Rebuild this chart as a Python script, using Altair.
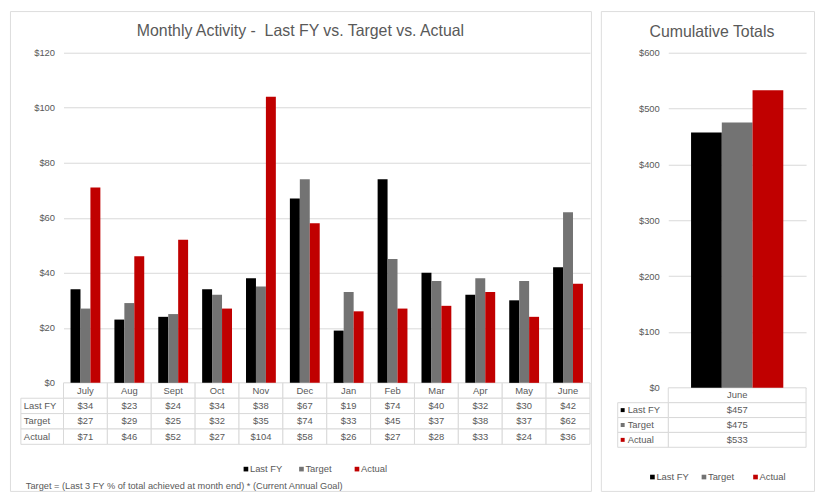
import altair as alt
import pandas as pd

# ---------------- data ----------------
months = ["July", "Aug", "Sept", "Oct", "Nov", "Dec", "Jan", "Feb", "Mar", "Apr", "May", "June"]
series = ["Last FY", "Target", "Actual"]
last_fy = [34, 23, 24, 34, 38, 67, 19, 74, 40, 32, 30, 42]
target = [27, 29, 25, 32, 35, 74, 33, 45, 37, 38, 37, 62]
actual = [71, 46, 52, 27, 104, 58, 26, 27, 28, 33, 24, 36]

cum_cats = ["June"]
cum_last_fy = [457]
cum_target = [475]
cum_actual = [533]

left_ticks = [0, 20, 40, 60, 80, 100, 120]
right_ticks = [0, 100, 200, 300, 400, 500, 600]

title_left = "Monthly Activity - \u00a0Last FY vs. Target vs. Actual"
title_right = "Cumulative Totals"
footnote = "Target = (Last 3 FY % of total achieved at month end) * (Current Annual Goal)"

# ---------------- style ----------------
colors = ["#000000", "#737373", "#c00000"]
GRID = "#d9d9d9"
TXT = "#595959"
FONT = "Liberation Sans"
FS = 9.5
HDR = "hdr"
rows = [HDR] + series


def build_panel(cats, vals, ticks, W, H, plot_range, pad_inner, pad_outer, y_range, label_pad,
                table_range, lab_cell, lab_text_x, marker_x, title, title_pos, leg_range, leg_y,
                note=None, note_pos=None):
    bars_df = pd.DataFrame([
        {"cat": c, "series": s, "value": vals[s][i]}
        for s in series for i, c in enumerate(cats)
    ])
    table_df = pd.DataFrame(
        [{"cat": c, "row": HDR, "txt": c} for c in cats]
        + [{"cat": c, "row": s, "txt": f"${vals[s][i]}"} for s in series for i, c in enumerate(cats)]
    )
    lab_df = pd.DataFrame({"row": series})
    leg_df = pd.DataFrame({"series": series})

    color = alt.Color("series:N", scale=alt.Scale(domain=series, range=colors), legend=None)

    bars = alt.Chart(bars_df).mark_bar().encode(
        x=alt.X("cat:N", scale=alt.Scale(domain=cats, range=plot_range,
                                         paddingInner=pad_inner, paddingOuter=pad_outer), axis=None),
        xOffset=alt.XOffset("series:N", scale=alt.Scale(domain=series, paddingInner=0, paddingOuter=0)),
        y=alt.Y("value:Q",
                scale=alt.Scale(domain=[ticks[0], ticks[-1]], range=y_range, nice=False),
                axis=alt.Axis(values=ticks, offset=-plot_range[0], labelPadding=label_pad,
                              grid=True, gridColor=GRID, gridWidth=1, domain=False, ticks=False,
                              labelExpr="'$' + datum.value", title=None, labelFontSize=FS,
                              labelColor=TXT, labelFont=FONT)),
        color=color,
    )

    xt = alt.X("cat:N", scale=alt.Scale(domain=cats, range=plot_range, paddingInner=0, paddingOuter=0),
               axis=None)
    yt = alt.Y("row:N", scale=alt.Scale(domain=rows, range=table_range, paddingInner=0, paddingOuter=0),
               axis=None)

    cells = alt.Chart(table_df).mark_rect(fill="white", stroke=GRID, strokeWidth=1).encode(x=xt, y=yt)
    cell_text = alt.Chart(table_df).mark_text(fontSize=FS, color=TXT, font=FONT).encode(
        x=xt, y=yt, text="txt:N")
    lab_cells = alt.Chart(lab_df).mark_rect(fill="white", stroke=GRID, strokeWidth=1).encode(
        x=alt.value(lab_cell[0]), x2=alt.value(lab_cell[1]), y=yt)
    lab_text = alt.Chart(lab_df).mark_text(align="left", fontSize=FS, color=TXT, font=FONT).encode(
        x=alt.value(lab_text_x), y=yt, text="row:N")

    layers = [cells, cell_text, lab_cells, lab_text, bars]

    if marker_x is not None:
        layers.append(alt.Chart(lab_df.assign(series=series))
                      .mark_square(size=16, opacity=1)
                      .encode(x=alt.value(marker_x), y=yt, color=color))

    ttl = alt.Chart(pd.DataFrame({"t": [title]})).mark_text(
        fontSize=16, color=TXT, font=FONT).encode(
        x=alt.value(title_pos[0]), y=alt.value(title_pos[1]), text="t:N")
    layers.append(ttl)

    lx = alt.X("series:N", scale=alt.Scale(domain=series, range=leg_range, paddingInner=0, paddingOuter=0),
               axis=None)
    leg_sq = alt.Chart(leg_df).mark_square(size=22, opacity=1).encode(
        x=lx, y=alt.value(leg_y), color=color)
    leg_tx = alt.Chart(leg_df).mark_text(align="left", dx=4, fontSize=FS, color=TXT, font=FONT).encode(
        x=lx, y=alt.value(leg_y), text="series:N")
    layers += [leg_sq, leg_tx]

    if note is not None:
        layers.append(alt.Chart(pd.DataFrame({"t": [note]})).mark_text(
            align="left", fontSize=9.3, color=TXT, font=FONT).encode(
            x=alt.value(note_pos[0]), y=alt.value(note_pos[1]), text="t:N"))

    return alt.layer(*layers).resolve_scale(
        x="independent", y="independent", xOffset="independent"
    ).properties(width=W, height=H)


left = build_panel(
    months, {"Last FY": last_fy, "Target": target, "Actual": actual}, left_ticks,
    W=586, H=484, plot_range=[54, 585], pad_inner=0.32, pad_outer=0.16, y_range=[375, 42],
    label_pad=9, table_range=[375, 437], lab_cell=[11, 54], lab_text_x=14, marker_x=None,
    title=title_left, title_pos=[293, 20], leg_range=[210, 378], leg_y=462,
    note=footnote, note_pos=[16, 479],
)

right = build_panel(
    cum_cats, {"Last FY": cum_last_fy, "Target": cum_target, "Actual": cum_actual}, right_ticks,
    W=215, H=484, plot_range=[68, 207], pad_inner=0, pad_outer=0.247, y_range=[380, 42],
    label_pad=9, table_range=[380, 440], lab_cell=[17, 68], lab_text_x=27, marker_x=22,
    title=title_right, title_pos=[112, 21], leg_range=[26, 182], leg_y=470,
)

chart = alt.hconcat(left, right, spacing=8).resolve_scale(
    x="independent", y="independent", xOffset="independent"
).configure_view(
    stroke=GRID, strokeWidth=1
).configure(font=FONT).properties(
    padding={"left": 1, "top": 0, "right": 0, "bottom": 0}
)

chart.save("out.html", embed_options={"renderer": "svg", "actions": False})
